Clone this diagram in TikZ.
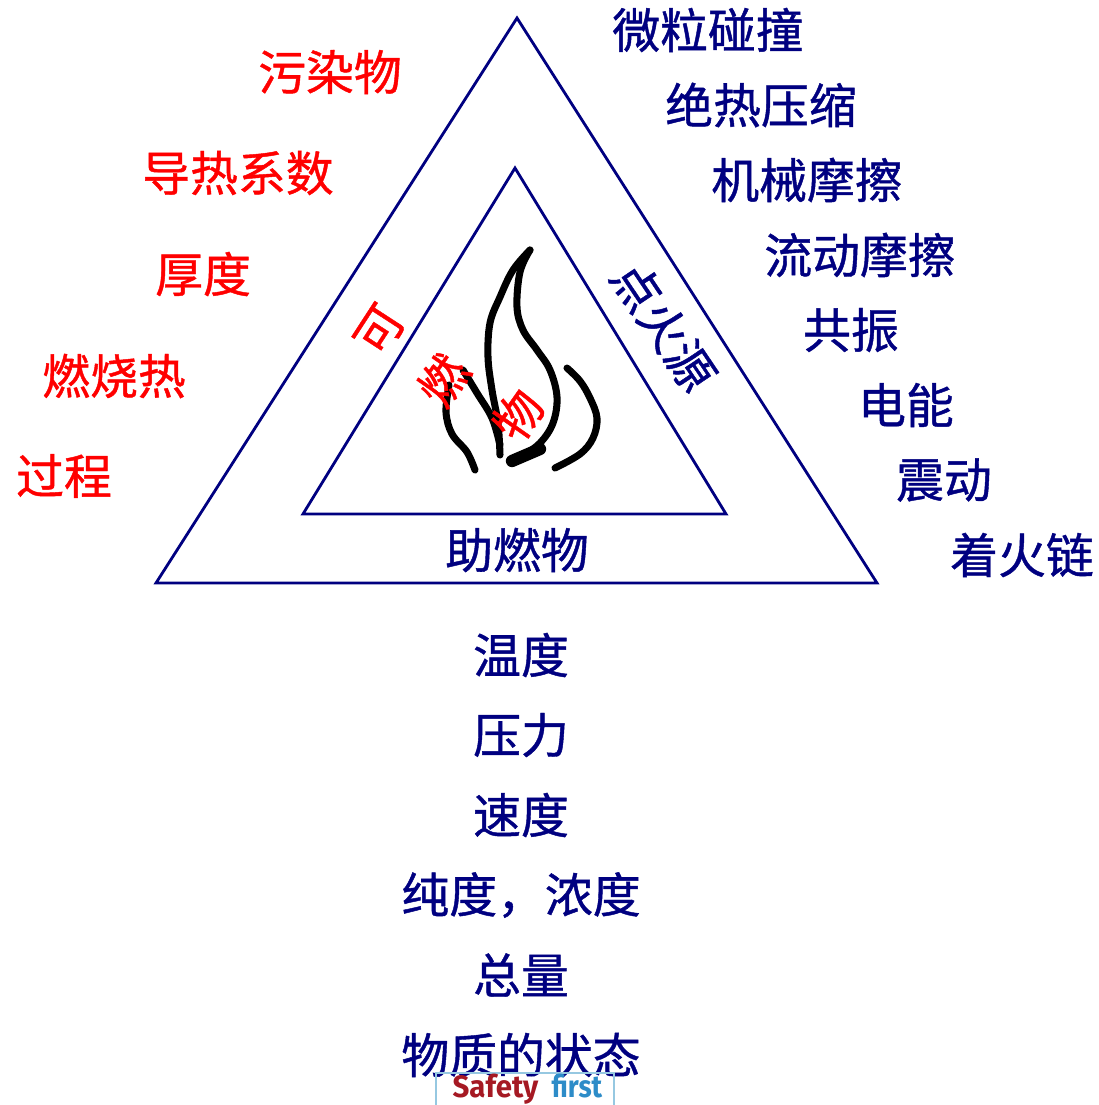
\documentclass[tikz,border=0pt]{standalone}
\usepackage{fontspec}
\newfontfamily\cjk[FakeBold=0.9]{Noto Sans CJK SC}
\newfontfamily\logofont{Fira Sans}
\definecolor{navy}{RGB}{0,0,128}
\definecolor{logored}{RGB}{165,25,35}
\definecolor{logoblue}{RGB}{45,140,200}
\definecolor{logoframe}{RGB}{150,200,225}
\tikzset{
  label/.style={inner sep=0pt, font=\cjk\fontsize{13.6pt}{16pt}\selectfont},
  cause/.style={label, text=navy},
  fuel/.style={label, text=red},
  flame/.style={line width=2pt, line cap=round, line join=round},
  define coordinates/.style={
    execute at begin picture={
      % outer triangle
      \coordinate (A) at (517,18);
      \coordinate (B) at (156,583);
      \coordinate (C) at (877,583);
      % inner triangle
      \coordinate (D) at (515,168);
      \coordinate (E) at (303,514);
      \coordinate (F) at (726,514);
    }
  }
}

\begin{document}
\begin{tikzpicture}[x=0.01cm, y=-0.01cm, define coordinates]
\useasboundingbox (0,0) rectangle (1099,1105);

% Draw the two triangles
\draw [navy, line width=0.8pt, line join=miter] (A) -- (B) -- (C) -- cycle;
\draw [navy, line width=0.8pt, line join=miter] (D) -- (E) -- (F) -- cycle;

% Draw the flame
\draw [flame] plot [smooth, tension=0.6] coordinates
  {(530,250) (513,270) (500,297) (490,323) (488,357) (492,390) (498,423) (500,455)};
\draw [flame] plot [smooth, tension=0.6] coordinates
  {(530,250) (520,272) (517,307) (523,330) (537,350) (550,370) (557,397) (553,423) (540,443) (520,458)};
\draw [flame, line width=3.5pt] (540,449) -- (512,461);
\draw [flame] plot [smooth, tension=0.6] coordinates
  {(567,368) (580,381) (590,398) (597,418) (593,438) (580,454) (555,468)};
\draw [flame] plot [smooth, tension=0.6] coordinates
  {(449,385) (446,412) (452,434) (467,452) (475,470)};
\draw [flame] plot [smooth, tension=0.6] coordinates
  {(463,370) (477,393) (492,418) (500,445)};

% Labels on the triangle
\node [cause] (oxid) at (517,550) {助燃物};
\node [cause, rotate=-56] (ignit) at (664,326) {点火源};
\node [fuel, rotate=57] (fuelA) at (380,330) {可};
\node [fuel, rotate=55] (fuelB) at (443,380) {燃};
\node [fuel, rotate=55] (fuelC) at (518,415) {物};

% Combustible factors
\node [fuel] (pollut) at (330,72)  {污染物};
\node [fuel] (conduct) at (238,173) {导热系数};
\node [fuel] (thick) at (203,274) {厚度};
\node [fuel] (heat) at (114,376) {燃烧热};
\node [fuel] (proc) at (64,476)   {过程};

% Ignition sources
\node [cause] (part) at (708,30)    {微粒碰撞};
\node [cause] (adiab) at (761,105)  {绝热压缩};
\node [cause] (mech) at (807,180)   {机械摩擦};
\node [cause] (flow) at (860,255)   {流动摩擦};
\node [cause] (reson) at (851,330)  {共振};
\node [cause] (elec) at (906,405)   {电能};
\node [cause] (vibr) at (944,480)   {震动};
\node [cause] (chain) at (1022,555) {着火链};

% Oxidizer conditions
\foreach \name/\txt [count=\i from 0] in
  {temp/温度, press/压力, speed/速度, pure/{纯度，浓度}, total/总量, state/物质的状态}
  \node [cause] (\name) at (521,655+80*\i) {\txt};

% Safety first logo
\draw [logoframe, line width=0.8pt] (436,1112) -- (436,1073) -- (614,1073) -- (614,1112);
\node [inner sep=0pt, anchor=base west, font=\logofont\bfseries\fontsize{8.8pt}{10pt}\selectfont, text=logored, xscale=0.95]
  (safe) at (452,1097) {Safety};
\node [inner sep=0pt, anchor=base west, font=\logofont\bfseries\fontsize{8.8pt}{10pt}\selectfont, text=logoblue, xscale=0.88]
  (first) at (551,1097) {first};
\end{tikzpicture}
\end{document}
